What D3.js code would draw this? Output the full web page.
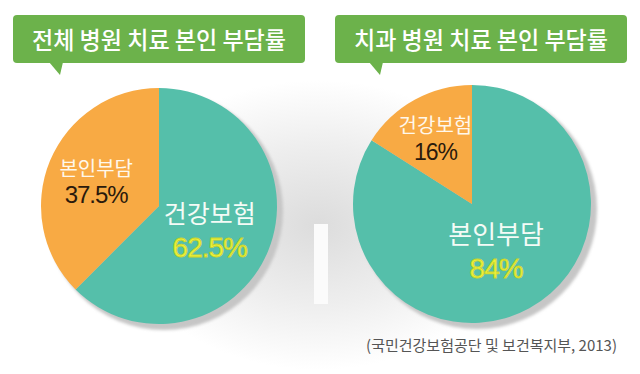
<!DOCTYPE html>
<html><head><meta charset="utf-8">
<script src="https://cdn.jsdelivr.net/npm/d3@7"></script>
<style>html,body{margin:0;padding:0;background:#fff;}svg{display:block;}</style>
</head><body>
<svg id="chart" width="640" height="374"></svg>
<script>
const titles = ["전체 병원 치료 본인 부담률", "치과 병원 치료 본인 부담률"];
const leftLabels = ["건강보험", "본인부담"];
const leftValues = [62.5, 37.5];
const rightLabels = ["본인부담", "건강보험"];
const rightValues = [84, 16];
const source = "(국민건강보험공단 및 보건복지부, 2013)";

const svg = d3.select("#chart");
const defs = svg.append("defs");

// faint background architecture
const rg = defs.append("radialGradient").attr("id","bg").attr("cx","50%").attr("cy","50%").attr("r","50%");
rg.append("stop").attr("offset","0%").attr("stop-color","#dcdcdc");
rg.append("stop").attr("offset","55%").attr("stop-color","#eeeeee");
rg.append("stop").attr("offset","100%").attr("stop-color","#ffffff");
svg.append("ellipse").attr("cx",318).attr("cy",225).attr("rx",200).attr("ry",145).attr("fill","url(#bg)");
svg.append("rect").attr("x",314).attr("y",224).attr("width",14).attr("height",80).attr("fill","#fbfbfb");

const blur = defs.append("filter").attr("id","sh").attr("x","-20%").attr("y","-20%").attr("width","140%").attr("height","140%");
blur.append("feGaussianBlur").attr("stdDeviation",1.5);

const teal = "#55bfaa", orange = "#f8aa44", green = "#6cb24b";
const kr = "'Noto Sans CJK KR','Noto Sans',sans-serif";
const num = "'Liberation Sans Narrow','Liberation Sans',Arial,sans-serif";

const charts = [
  {title: titles[0], labels: leftLabels, values: leftValues, cx: 159, cy: 206, r: 118,
   box: {x: 13, w: 292, tail: 60}, labelR: [55, 68], nameSize: [25, 20], valSize: [28, 24]},
  {title: titles[1], labels: rightLabels, values: rightValues, cx: 472, cy: 204, r: 119,
   box: {x: 335, w: 292, tail: 380}, labelR: [50, 76], nameSize: [26, 20], valSize: [28, 23]}
];

const pie = d3.pie().sort(null).value(d => d);

charts.forEach(c => {
  const b = c.box, top = 15, bh = 48;
  const g = svg.append("g");
  g.append("rect").attr("x", b.x).attr("y", top).attr("width", b.w).attr("height", bh)
    .attr("rx", 4).attr("fill", green);
  g.append("path").attr("d", `M${b.tail-11},${top+bh-1} L${b.tail+3},${top+bh-1} L${b.tail},${top+bh+12} Z`).attr("fill", green);
  g.append("text").attr("x", b.x + b.w/2).attr("y", top + 34)
    .attr("text-anchor","middle").attr("fill","#fff")
    .attr("font-family", kr).attr("font-size", 24).attr("font-weight", 500)
    .attr("textLength", 254).attr("lengthAdjust","spacingAndGlyphs")
    .text(c.title);

  const pg = svg.append("g").attr("transform", `translate(${c.cx},${c.cy})`);
  pg.append("circle").attr("cx", 5).attr("cy", 5).attr("r", c.r + 1).attr("fill", "#c6c6c6").attr("filter","url(#sh)");
  const arcs = pie(c.values);
  const arc = d3.arc().innerRadius(0).outerRadius(c.r);
  pg.selectAll("path.slice").data(arcs).enter().append("path").attr("class","slice")
    .attr("d", arc).attr("fill", (d,i) => i === 0 ? teal : orange);

  arcs.forEach((d, i) => {
    const la = d3.arc().innerRadius(c.labelR[i]).outerRadius(c.labelR[i]);
    const [x, y] = la.centroid(d);
    pg.append("text").attr("x", x).attr("y", y - 4).attr("text-anchor","middle")
      .attr("fill", i === 0 ? "#f4fbf6" : "#fff8ec")
      .attr("font-family", kr).attr("font-size", c.nameSize[i])
      .text(c.labels[i]);
    const vt = pg.append("text").attr("x", x).attr("y", y + (i === 0 ? 30 : 23)).attr("text-anchor","middle")
      .attr("font-family", num).attr("font-size", c.valSize[i])
      .attr("letter-spacing", -1)
      .text(c.values[i] + "%");
    if (i === 0) vt.attr("fill", "#eef23c").attr("stroke", "#c8d42a").attr("stroke-width", 0.8);
    else vt.attr("fill", "#2b1a0c");
  });
});

svg.append("text").attr("x", 617).attr("y", 351).attr("text-anchor","end")
  .attr("fill","#555").attr("font-family", kr).attr("font-size", 15)
  .text(source);
</script>
</body></html>
